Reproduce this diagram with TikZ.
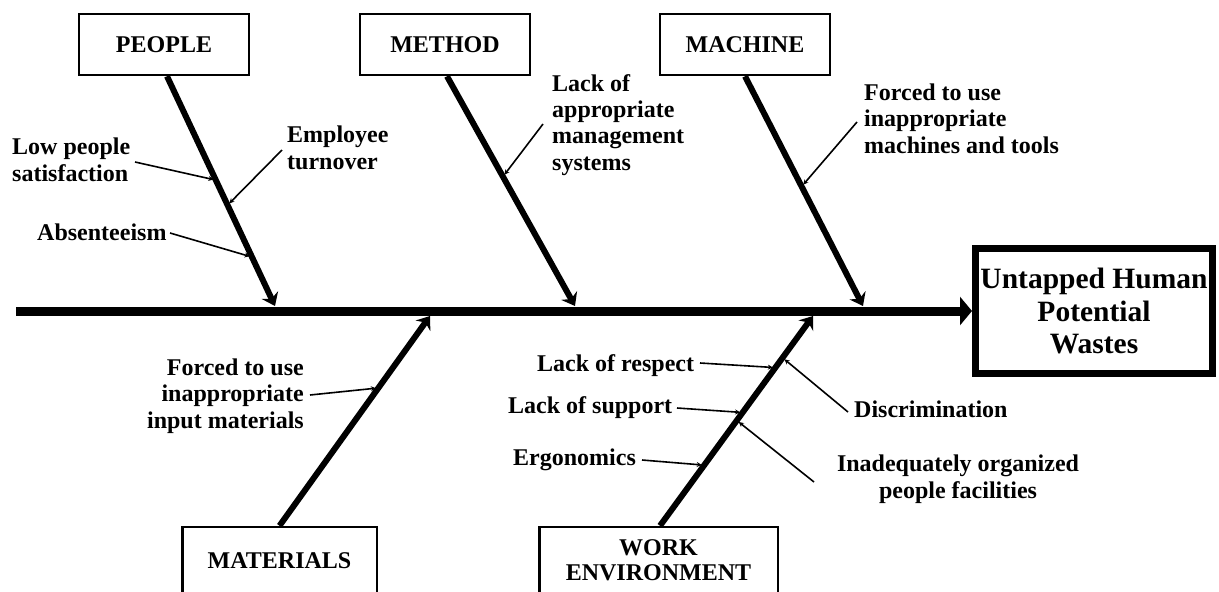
\documentclass[tikz,border=0pt]{standalone}
\usepackage{fontspec}
\setmainfont{Liberation Serif}
\usetikzlibrary{arrows.meta,calc}

\begin{document}
\begin{tikzpicture}[x=1pt,y=-1pt,
  lbl/.style={font=\bfseries\fontsize{24}{26.3}\selectfont, inner sep=0pt},
  catbox/.style={draw, line width=2.5pt, inner sep=0pt,
    font=\bfseries\fontsize{24}{25}\selectfont, align=center},
  bone/.style={line width=6pt, -{Stealth[length=12pt,width=18pt,inset=4pt]}},
  sub/.style={line width=1.6pt, -{Stealth[length=5pt,width=5pt]}, shorten >=2.5pt},
  spine/.style={line width=9pt, -{Triangle[length=12pt,width=28pt]}},
]
\useasboundingbox (0,0) rectangle (1219,592);
\clip (0,0) rectangle (1219,592);

% category boxes
\node[catbox, minimum width=170pt, minimum height=61pt] (people) at (164,44.5) {PEOPLE};
\node[catbox, minimum width=170pt, minimum height=61pt] (method) at (445,44.5) {METHOD};
\node[catbox, minimum width=170pt, minimum height=61pt] (machine) at (745,44.5) {MACHINE};
\node[catbox, minimum width=194.5pt, minimum height=67pt] (materials) at (279.5,560.5) {MATERIALS};
\node[catbox, minimum width=238.5pt, minimum height=66pt] (workenv) at (658.5,560) {WORK\\ENVIRONMENT};

% effect box
\node[draw, line width=7pt, minimum width=237pt, minimum height=125pt, inner sep=0pt,
  font=\bfseries\fontsize{29.5}{32.5}\selectfont, align=center] (outcome) at (1094,311)
  {Untapped Human\\Potential\\Wastes};

% spine
\coordinate (spineL) at (16,311);
\draw[spine] (spineL) -- (outcome.west);

% bones
\coordinate (pTop) at ([xshift=3pt]people.south);
\coordinate (meTop) at ([xshift=2pt]method.south);
\coordinate (maTop) at (machine.south);
\coordinate (mtBot) at (materials.north);
\coordinate (wBot) at ([xshift=1.5pt]workenv.north);
\coordinate (tipP) at (275,306);
\coordinate (tipMe) at (575,306);
\coordinate (tipMa) at (863,306);
\coordinate (tipMt) at (430,316);
\coordinate (tipW) at (813,316);
\draw[bone] (pTop) -- (tipP);
\draw[bone] (meTop) -- (tipMe);
\draw[bone] (maTop) -- (tipMa);
\draw[bone] (mtBot) -- (tipMt);
\draw[bone] (wBot) -- (tipW);

% cause labels (base anchor = baseline of the last line)
\node[lbl, anchor=base west, align=left] (lowsat) at (12,181) {Low people\\satisfaction};
\node[lbl, anchor=base west, align=left] (turnover) at (287,169) {Employee\\turnover};
\node[lbl, anchor=base west] (absent) at (37,240) {Absenteeism};
\node[lbl, anchor=base west, align=left] (mgmt) at (552,170) {Lack of\\appropriate\\management\\systems};
\node[lbl, anchor=base west, align=left] (tools) at (864,153) {Forced to use\\inappropriate\\machines and tools};
\node[lbl, anchor=base east, align=right] (inputs) at (304,428) {Forced to use\\inappropriate\\input materials};
\node[lbl, anchor=base west] (respect) at (537,371) {Lack of respect};
\node[lbl, anchor=base west] (support) at (508,413) {Lack of support};
\node[lbl, anchor=base west] (ergo) at (513,465) {Ergonomics};
\node[lbl, anchor=base west] (discr) at (854,417) {Discrimination};
\node[lbl, anchor=base, align=center] (facil) at (958,498) {Inadequately organized\\people facilities};

% connector starts beside the labels
\coordinate (s1) at (135,162);
\coordinate (s2) at (282,150);
\coordinate (s3) at (170,233);
\coordinate (s4) at (543,124);
\coordinate (s5) at (857,122);
\coordinate (s6) at (310,395);
\coordinate (s7) at (700,363);
\coordinate (s8) at (677,408);
\coordinate (s9) at (642,460);
\coordinate (s10) at (848,412);
\coordinate (s11) at (814,482);

% points on the bones
\coordinate (b1) at ($(pTop)!0.452!(tipP)$);
\coordinate (b2) at ($(pTop)!0.561!(tipP)$);
\coordinate (b3) at ($(pTop)!0.787!(tipP)$);
\coordinate (b4) at ($(meTop)!0.437!(tipMe)$);
\coordinate (b5) at ($(maTop)!0.48!(tipMa)$);
\coordinate (b6) at ($(mtBot)!0.657!(tipMt)$);
\coordinate (b7) at ($(wBot)!0.754!(tipW)$);
\coordinate (b8) at ($(wBot)!0.540!(tipW)$);
\coordinate (b9) at ($(wBot)!0.289!(tipW)$);
\coordinate (b10) at ($(wBot)!0.801!(tipW)$);
\coordinate (b11) at ($(wBot)!0.502!(tipW)$);

% sub-cause connectors
\foreach \i in {1,...,11} \draw[sub] (s\i) -- (b\i);
\end{tikzpicture}
\end{document}
